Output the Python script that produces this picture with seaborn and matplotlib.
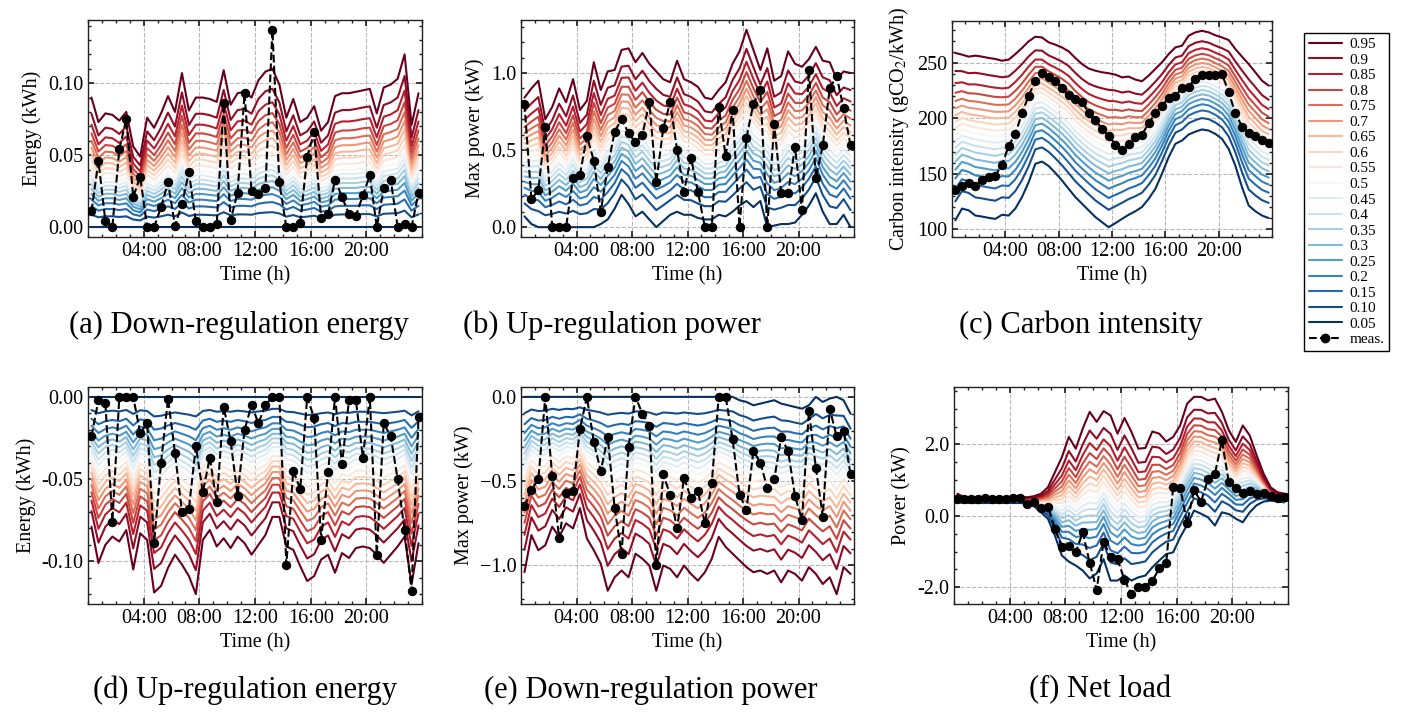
import numpy as np
import pandas as pd
import seaborn as sns
import matplotlib
matplotlib.use("Agg")
import matplotlib.pyplot as plt
from matplotlib.lines import Line2D
from matplotlib.ticker import MultipleLocator, AutoMinorLocator, FormatStrFormatter
from statistics import NormalDist

# half-hourly slots, plotted at slot centre (hours)
time_h = np.arange(0.25, 24, 0.5)

levels = [0.05, 0.10, 0.15, 0.20, 0.25, 0.30, 0.35, 0.40, 0.45, 0.50,
          0.55, 0.60, 0.65, 0.70, 0.75, 0.80, 0.85, 0.90, 0.95]
level_labels = ["0.05", "0.10", "0.15", "0.2", "0.25", "0.3", "0.35", "0.4", "0.45", "0.5",
                "0.55", "0.6", "0.65", "0.7", "0.75", "0.8", "0.85", "0.9", "0.95"]

#(a) down-regulation energy
meas_a = [0.011, 0.046, 0.004, 0.000, 0.054, 0.075, 0.021, 0.035, 0.000, 0.000, 0.014, 0.031,
          0.001, 0.016, 0.038, 0.004, 0.000, 0.000, 0.002, 0.086, 0.005, 0.024, 0.093, 0.025,
          0.023, 0.027, 0.137, 0.031, 0.000, 0.000, 0.003, 0.049, 0.066, 0.006, 0.009, 0.033,
          0.021, 0.009, 0.008, 0.022, 0.036, 0.000, 0.027, 0.033, 0.000, 0.002, 0.000, 0.024]
q95_a = [0.090, 0.073, 0.079, 0.078, 0.074, 0.080, 0.056, 0.049, 0.076, 0.069, 0.079, 0.091,
         0.080, 0.107, 0.081, 0.090, 0.090, 0.089, 0.087, 0.109, 0.085, 0.093, 0.094, 0.090,
         0.102, 0.108, 0.110, 0.099, 0.076, 0.089, 0.073, 0.076, 0.084, 0.067, 0.073, 0.091,
         0.093, 0.093, 0.094, 0.095, 0.096, 0.079, 0.097, 0.099, 0.103, 0.120, 0.071, 0.093]
q50_a = [0.039, 0.031, 0.034, 0.034, 0.032, 0.034, 0.024, 0.021, 0.033, 0.030, 0.034, 0.039,
         0.034, 0.046, 0.035, 0.039, 0.039, 0.038, 0.037, 0.047, 0.037, 0.040, 0.040, 0.039,
         0.044, 0.046, 0.047, 0.043, 0.033, 0.038, 0.031, 0.033, 0.036, 0.029, 0.031, 0.039,
         0.040, 0.040, 0.040, 0.041, 0.041, 0.034, 0.042, 0.043, 0.044, 0.052, 0.031, 0.040]
q05_a = [0.0] * 48

#(b) up-regulation power
meas_b = [0.80, 0.18, 0.24, 0.65, 0.00, 0.00, 0.00, 0.32, 0.34, 0.59, 0.43, 0.10,
          0.39, 0.62, 0.70, 0.61, 0.55, 0.60, 0.81, 0.29, 0.64, 0.81, 0.50, 0.23,
          0.45, 0.23, 0.00, 0.00, 0.78, 0.46, 0.76, 0.00, 0.58, 0.80, 0.89, 0.00,
          0.67, 0.22, 0.22, 0.52, 0.11, 1.02, 0.32, 0.53, 0.90, 0.98, 0.77, 0.53]
q95_b = [0.84, 0.90, 0.95, 0.70, 0.78, 0.90, 0.81, 0.96, 0.76, 0.82, 1.07, 0.89,
         1.01, 1.02, 1.15, 1.16, 1.07, 1.13, 1.06, 1.01, 0.96, 0.94, 1.08, 0.96,
         0.94, 0.91, 0.84, 0.83, 0.89, 0.94, 1.06, 1.14, 1.28, 1.15, 1.02, 1.16,
         0.95, 0.98, 1.14, 1.06, 1.04, 1.09, 1.17, 1.08, 1.07, 0.96, 1.01, 1.00]
q50_b = [0.45, 0.46, 0.47, 0.35, 0.39, 0.45, 0.40, 0.48, 0.38, 0.41, 0.53, 0.45,
         0.53, 0.57, 0.66, 0.65, 0.57, 0.61, 0.55, 0.50, 0.50, 0.51, 0.59, 0.52,
         0.51, 0.48, 0.44, 0.44, 0.48, 0.50, 0.58, 0.64, 0.72, 0.64, 0.59, 0.58,
         0.48, 0.50, 0.58, 0.54, 0.56, 0.61, 0.69, 0.59, 0.54, 0.49, 0.54, 0.50]
q05_b = [0.07, 0.02, 0.00, 0.00, 0.00, 0.00, 0.00, 0.00, 0.00, 0.00, 0.00, 0.02,
         0.05, 0.12, 0.21, 0.15, 0.07, 0.10, 0.05, 0.00, 0.04, 0.08, 0.10, 0.08,
         0.08, 0.06, 0.05, 0.05, 0.08, 0.07, 0.10, 0.14, 0.17, 0.13, 0.17, 0.00,
         0.01, 0.02, 0.02, 0.03, 0.08, 0.14, 0.22, 0.10, 0.02, 0.02, 0.08, 0.00]

#(c) carbon intensity
meas_c = [135.8, 139.4, 141.5, 138.8, 144.0, 147.0, 148.4, 158.0, 175.0, 186.0, 204.6, 220.5,
          234.0, 241.0, 237.7, 233.5, 227.0, 221.4, 217.5, 214.5, 205.0, 198.6, 190.5, 184.5,
          176.4, 171.5, 177.0, 183.0, 185.4, 195.6, 204.6, 211.5, 218.0, 220.5, 227.0, 228.7,
          235.6, 239.0, 239.0, 239.5, 240.0, 223.5, 204.6, 192.6, 187.0, 184.5, 180.6, 177.6]
q95_c = [259.0, 257.5, 255.7, 256.6, 255.7, 254.5, 253.6, 252.0, 253.0, 258.0, 263.5, 269.5,
         273.7, 273.0, 268.6, 266.5, 264.0, 260.5, 254.5, 249.0, 245.0, 243.0, 241.6, 240.7,
         239.5, 237.0, 237.7, 235.0, 233.5, 238.6, 244.6, 250.6, 258.0, 264.0, 265.6, 274.6,
         277.6, 279.0, 277.6, 275.0, 273.0, 270.7, 262.6, 255.7, 249.0, 241.6, 234.0, 229.5]
q50_c = [185.5, 190.0, 188.0, 186.5, 185.5, 184.5, 183.5, 184.5, 184.5, 190.0, 198.0, 208.0,
         218.0, 219.0, 215.0, 210.5, 206.0, 200.5, 193.5, 188.0, 183.0, 179.0, 176.0, 173.0,
         174.5, 175.0, 177.0, 177.5, 178.5, 185.0, 192.5, 202.0, 213.5, 222.5, 225.0, 232.0,
         235.0, 236.5, 235.5, 232.5, 229.0, 223.5, 212.0, 199.0, 187.0, 181.0, 175.0, 172.0]
q05_c = [108.0, 118.6, 117.0, 112.3, 111.4, 110.2, 109.3, 113.0, 112.3, 118.6, 129.0, 142.4,
         159.0, 161.0, 157.0, 150.8, 144.0, 136.4, 129.0, 123.0, 117.0, 111.0, 106.3, 101.8,
         105.4, 109.3, 113.0, 116.2, 120.0, 127.4, 136.4, 150.0, 165.0, 177.0, 180.0, 185.4,
         188.0, 190.0, 189.0, 186.0, 181.5, 172.4, 157.4, 138.0, 121.4, 116.2, 112.3, 110.0]

#(d) up-regulation energy
meas_d = [-0.024, -0.002, -0.004, -0.076, 0.000, 0.000, 0.000, -0.022, -0.016, -0.089, -0.040, -0.001,
          -0.034, -0.070, -0.068, -0.030, -0.058, -0.037, -0.064, -0.006, -0.027, -0.060, -0.020, -0.005,
          -0.016, -0.005, 0.000, 0.000, -0.102, -0.045, -0.056, 0.000, -0.013, -0.087, -0.046, 0.000,
          -0.041, -0.002, -0.002, -0.037, 0.000, -0.096, -0.016, -0.024, -0.050, -0.081, -0.118, -0.012]
q95_d = [-0.079, -0.101, -0.090, -0.085, -0.088, -0.081, -0.105, -0.083, -0.087, -0.119, -0.115, -0.104,
         -0.096, -0.102, -0.109, -0.120, -0.087, -0.081, -0.091, -0.086, -0.092, -0.085, -0.089, -0.096,
         -0.090, -0.084, -0.073, -0.073, -0.091, -0.093, -0.103, -0.112, -0.109, -0.099, -0.096, -0.107,
         -0.095, -0.098, -0.092, -0.091, -0.092, -0.096, -0.101, -0.096, -0.091, -0.085, -0.114, -0.089]
q50_d = [-0.036, -0.045, -0.040, -0.038, -0.040, -0.036, -0.047, -0.037, -0.039, -0.054, -0.052, -0.047,
         -0.043, -0.046, -0.049, -0.054, -0.039, -0.036, -0.041, -0.039, -0.041, -0.038, -0.040, -0.043,
         -0.040, -0.038, -0.033, -0.033, -0.041, -0.042, -0.046, -0.050, -0.049, -0.045, -0.043, -0.048,
         -0.043, -0.044, -0.041, -0.041, -0.041, -0.043, -0.045, -0.043, -0.041, -0.038, -0.051, -0.040]
q05_d = [0.0] * 48

#(e) down-regulation power
meas_e = [-0.65, -0.55, -0.49, 0.00, -0.47, -0.84, -0.57, -0.56, -0.19, 0.00, -0.27, -0.44,
          -0.24, -0.66, -0.93, -0.30, 0.00, -0.10, -0.17, -1.00, -0.46, -0.58, -0.78, -0.48,
          -0.60, -0.56, -0.75, -0.51, 0.00, 0.00, -0.25, -0.58, -0.67, -0.32, -0.39, -0.54,
          -0.49, -0.24, -0.32, -0.59, -0.73, -0.085, -0.42, -0.71, -0.07, -0.235, -0.20, -0.46]
q95_e = [-1.04, -0.82, -0.91, -0.88, -0.77, -0.83, -0.75, -0.78, -0.66, -0.84, -0.91, -0.99,
         -1.15, -1.07, -1.03, -1.07, -0.93, -0.96, -1.00, -1.15, -1.00, -1.02, -1.07, -1.00,
         -1.05, -1.09, -1.04, -0.96, -0.83, -0.89, -0.93, -0.97, -1.01, -1.04, -1.03, -1.05,
         -1.03, -1.10, -1.03, -1.05, -1.09, -1.01, -1.05, -1.11, -1.07, -1.17, -1.01, -1.05]
q50_e = [-0.44, -0.34, -0.38, -0.37, -0.32, -0.35, -0.32, -0.33, -0.28, -0.35, -0.38, -0.42,
         -0.48, -0.45, -0.43, -0.45, -0.39, -0.40, -0.42, -0.48, -0.42, -0.43, -0.45, -0.42,
         -0.44, -0.46, -0.44, -0.40, -0.35, -0.37, -0.39, -0.42, -0.44, -0.46, -0.45, -0.45,
         -0.46, -0.49, -0.47, -0.48, -0.48, -0.42, -0.46, -0.47, -0.45, -0.50, -0.44, -0.50]
q05_e = [0.00, 0.00, 0.00, 0.00, 0.00, 0.00, 0.00, 0.00, 0.00, 0.00, 0.00, 0.00,
         0.00, 0.00, 0.00, 0.00, 0.00, 0.00, 0.00, 0.00, 0.00, 0.00, 0.00, 0.00,
         0.00, 0.00, 0.00, 0.00, 0.00, 0.00, 0.00, -0.02, -0.03, -0.05, -0.04, -0.03,
         -0.02, -0.04, -0.05, -0.06, -0.07, -0.05, 0.00, -0.03, -0.01, 0.00, -0.02, -0.10]

#(f) net load
meas_f = [0.46, 0.48, 0.46, 0.46, 0.50, 0.47, 0.46, 0.46, 0.51, 0.50, 0.32, 0.38,
          0.21, 0.26, -0.36, -0.88, -0.83, -1.02, -0.46, -1.31, -2.07, -0.72, -1.14, -1.21,
          -1.79, -2.19, -2.00, -1.98, -1.82, -1.47, -1.31, 0.82, 0.79, -0.20, 0.72, 0.40,
          1.02, 1.18, 2.11, 0.94, 0.78, 0.64, 0.69, 0.62, 0.65, 0.55, 0.51, 0.52]
q95_f = [0.62, 0.52, 0.52, 0.52, 0.52, 0.52, 0.52, 0.52, 0.55, 0.54, 0.52, 0.55,
         0.62, 0.80, 1.22, 1.64, 2.21, 1.88, 2.44, 2.91, 2.63, 2.93, 2.81, 2.30,
         2.74, 2.35, 1.88, 1.90, 2.36, 2.30, 2.08, 2.21, 2.53, 3.14, 3.33, 3.33,
         3.23, 3.28, 2.91, 2.39, 2.07, 2.53, 2.25, 1.69, 1.18, 0.80, 0.66, 0.62]
q50_f = [0.47, 0.46, 0.46, 0.46, 0.46, 0.46, 0.46, 0.46, 0.46, 0.46, 0.44, 0.42,
         0.38, 0.34, 0.30, 0.25, 0.42, 0.25, 0.44, 0.55, 0.50, 0.80, 0.48, 0.25,
         0.52, 0.28, 0.10, 0.13, 0.45, 0.52, 0.50, 0.60, 0.95, 1.40, 1.70, 1.68,
         1.58, 1.48, 1.50, 1.22, 1.00, 1.15, 1.15, 1.00, 0.80, 0.62, 0.53, 0.48]
q05_f = [0.38, 0.36, 0.36, 0.36, 0.36, 0.36, 0.36, 0.36, 0.36, 0.36, 0.34, 0.27,
         0.10, -0.08, -0.55, -1.11, -1.28, -1.39, -1.53, -1.75, -1.61, -1.21, -1.81, -1.81,
         -1.67, -1.81, -1.72, -1.67, -1.44, -1.25, -1.07, -1.02, -0.60, -0.25, 0.15, 0.06,
         -0.04, -0.27, 0.10, 0.05, -0.08, -0.18, 0.10, 0.30, 0.40, 0.43, 0.40, 0.38]


def quantile_frame(lo, mid, hi):
    # spread the intermediate quantiles between the read q05 / q50 / q95 curves
    lo, mid, hi = np.asarray(lo), np.asarray(mid), np.asarray(hi)
    z95 = NormalDist().inv_cdf(0.95)
    parts = []
    for q in levels:
        z = NormalDist().inv_cdf(q) / z95
        edge = hi if z > 0 else lo
        vals = mid + abs(z) * (edge - mid)
        parts.append(pd.DataFrame({"time": time_h, "value": vals, "q": q}))
    return pd.concat(parts, ignore_index=True)


sns.set_theme(style="ticks")
plt.rcParams.update({
    "font.family": ["Liberation Serif", "DejaVu Serif"],
    "mathtext.fontset": "stix",
    "font.size": 14.5,
    "axes.labelsize": 14.5,
    "xtick.labelsize": 14.5,
    "ytick.labelsize": 14.5,
    "text.color": "black",
    "axes.labelcolor": "black",
    "axes.edgecolor": "#222222",
    "axes.linewidth": 1.0,
    "xtick.direction": "in",
    "ytick.direction": "in",
    "xtick.top": True,
    "ytick.right": True,
    "xtick.major.size": 4,
    "ytick.major.size": 4,
    "xtick.minor.size": 2,
    "ytick.minor.size": 2,
    "xtick.color": "#222222",
    "ytick.color": "#222222",
    "xtick.labelcolor": "black",
    "ytick.labelcolor": "black",
})

fig = plt.figure(figsize=(14.13, 7.12), dpi=100)
W, H = 1413, 712


def place(left, top, right, bottom):
    return fig.add_axes([left / W, 1 - bottom / H, (right - left) / W, (bottom - top) / H])


panels = [
    (place(88, 20, 422, 237), meas_a, q05_a, q50_a, q95_a, "Energy (kWh)", 0.05, "%.2f",
     "(a) Down-regulation energy", 239, 325),
    (place(521, 20, 854, 237), meas_b, q05_b, q50_b, q95_b, "Max power (kW)", 0.5, "%.1f",
     "(b) Up-regulation power", 612, 325),
    (place(952, 21, 1272, 237), meas_c, q05_c, q50_c, q95_c, "Carbon intensity (gCO$_2$/kWh)", 50, None,
     "(c) Carbon intensity", 1081, 325),
    (place(88, 387, 422, 604), meas_d, q05_d, q50_d, q95_d, "Energy (kWh)", 0.05, "%.2f",
     "(d) Up-regulation energy", 245, 690),
    (place(521, 387, 854, 604), meas_e, q05_e, q50_e, q95_e, "Max power (kW)", 0.5, None,
     "(e) Down-regulation power", 651, 690),
    (place(954, 387, 1288, 604), meas_f, q05_f, q50_f, q95_f, "Power (kW)", 2.0, "%.1f",
     "(f) Net load", 1100, 690),
]

for ax, meas, lo, mid, hi, ylab, step, fmt, caption, cx, cy in panels:
    df = quantile_frame(lo, mid, hi)
    sns.lineplot(data=df, x="time", y="value", hue="q", palette="RdBu_r",
                 hue_norm=(0.05, 0.95), linewidth=1.5, legend=False, ax=ax)
    sns.lineplot(x=time_h, y=meas, color="black", linestyle="--", linewidth=1.5,
                 marker="o", markersize=6, markeredgecolor="black", ax=ax, zorder=5)
    ax.set_xlim(0, 24)
    ax.xaxis.set_minor_locator(MultipleLocator(1))
    ax.set_xticks([4, 8, 12, 16, 20])
    ax.set_xticklabels(["04:00", "08:00", "12:00", "16:00", "20:00"])
    ax.yaxis.set_major_locator(MultipleLocator(step))
    ax.yaxis.set_minor_locator(AutoMinorLocator())
    if fmt:
        ax.yaxis.set_major_formatter(FormatStrFormatter(fmt))
    ax.grid(True, which="major", linestyle="--", color="#b8b8b8", linewidth=0.8)
    ax.set_xlabel("Time (h)")
    ax.set_ylabel(ylab)
    fig.text(cx / W, 1 - cy / H, caption, ha="center", va="center", fontsize=22)

cmap = sns.color_palette("RdBu_r", as_cmap=True)
handles = [Line2D([0], [0], color=cmap((q - 0.05) / 0.9), lw=1.5) for q in levels[::-1]]
handles.append(Line2D([0], [0], color="black", ls="--", lw=1.5, marker="o", markersize=6))
labels = level_labels[::-1] + ["meas."]
fig.legend(handles, labels, loc="upper left", bbox_to_anchor=(1304 / W, 1 - 33 / H),
           frameon=True, fancybox=False, edgecolor="black", framealpha=1, fontsize=11,
           labelspacing=0.12, handlelength=2.2, handletextpad=0.5, borderpad=0.3,
           borderaxespad=0)

fig.savefig("out.png", dpi=100)
